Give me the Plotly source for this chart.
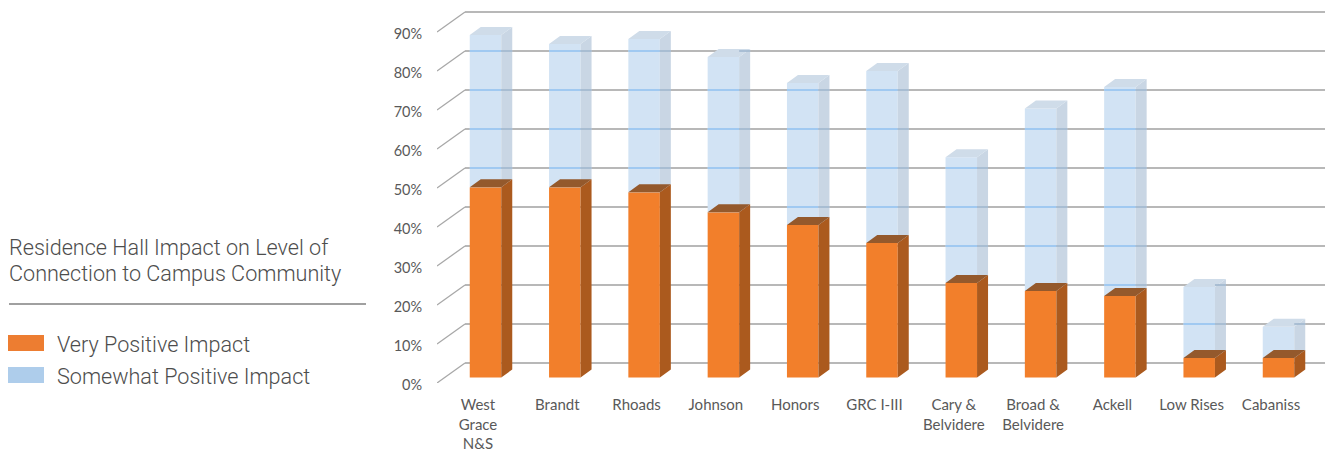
import plotly.graph_objects as go

halls = ["West<br>Grace<br>N&S", "Brandt", "Rhoads", "Johnson", "Honors", "GRC I-III",
         "Cary &<br>Belvidere", "Broad &<br>Belvidere", "Ackell", "Low Rises", "Cabaniss"]
very_positive = [48.8, 48.8, 47.5, 42.4, 39.1, 34.5, 24.2, 22.2, 20.9, 5.0, 5.0]
somewhat_positive = [39.0, 36.7, 39.3, 39.8, 36.4, 44.1, 32.3, 46.8, 53.6, 18.2, 8.0]
y_ticks = list(range(0, 100, 10))
y_labels = [f"{t}%" for t in y_ticks]

W, H = 1327, 452
PX_Y = 3.9            # pixels per percent
PX_X = 79.3           # pixels per category
X0 = 478              # pixel of first category
Y0 = 383              # pixel of 0% on front plane
L, R = 437, 1325
T = 5

def xdata(px): return (px - X0) / PX_X
def ydata(py): return (Y0 - py) / PX_Y
def xp(px): return (px - L) / (R - L)
def yp(py): return (Y0 - py) / (Y0 - T)

WALL_DX = 28 / PX_X
WALL_DY = 20 / PX_Y
BAR_BASE = 5.5 / PX_Y
BAR_W = 31.5 / PX_X
BAR_SHIFT = 7.5 / PX_X
SIDE_DX = 11 / PX_X
SIDE_DY = 8 / PX_Y

x_pos = list(range(len(halls)))
x_min = xdata(L)

fig = go.Figure()
bar_x = [i + BAR_SHIFT for i in x_pos]
fig.add_bar(x=bar_x, y=very_positive, base=[BAR_BASE] * len(halls), width=BAR_W,
            marker=dict(color="#f27f2b", line_width=0), name="Very Positive Impact",
            hoverinfo="skip")
fig.add_bar(x=bar_x, y=somewhat_positive, base=[BAR_BASE + v for v in very_positive], width=BAR_W,
            marker=dict(color="#d2e3f4", line_width=0), name="Somewhat Positive Impact",
            hoverinfo="skip")

def faces(bottoms, tops):
    sx, sy, tx, ty = [], [], [], []
    for i, b, t in zip(bar_x, bottoms, tops):
        r = i + BAR_W / 2
        l = i - BAR_W / 2
        sx += [r, r + SIDE_DX, r + SIDE_DX, r, r, None]
        sy += [b, b + SIDE_DY, t + SIDE_DY, t, b, None]
        tx += [l, r, r + SIDE_DX, l + SIDE_DX, l, None]
        ty += [t, t, t + SIDE_DY, t + SIDE_DY, t, None]
    return sx, sy, tx, ty

def add_poly(x, y, color):
    fig.add_scatter(x=x, y=y, mode="lines", fill="toself", fillcolor=color,
                    line=dict(width=0, color=color), hoverinfo="skip", showlegend=False)

o_bot = [BAR_BASE] * len(halls)
o_top = [BAR_BASE + v for v in very_positive]
b_top = [a + b for a, b in zip(o_top, somewhat_positive)]

sx, sy, tx, ty = faces(o_top, b_top)
add_poly(sx, sy, "#c9d6e4")
add_poly(tx, ty, "#cfdce9")

# gridlines seen through the translucent blue columns
fx, fy, gx, gy = [], [], [], []
for g in y_ticks:
    wall = g + WALL_DY
    for i, ot, bt in zip(bar_x, o_top, b_top):
        r = i + BAR_W / 2
        l = i - BAR_W / 2
        if ot + SIDE_DY < wall < bt + SIDE_DY:
            if wall < bt:
                fx += [l, r, None]; fy += [wall, wall, None]
            gx += [r, r + SIDE_DX, None]; gy += [wall, wall, None]
fig.add_scatter(x=fx, y=fy, mode="lines", line=dict(color="#8fc1f0", width=1.5),
                hoverinfo="skip", showlegend=False)
fig.add_scatter(x=gx, y=gy, mode="lines", line=dict(color="#9db4cc", width=1.5),
                hoverinfo="skip", showlegend=False)

sx, sy, tx, ty = faces(o_bot, o_top)
add_poly(sx, sy, "#ab5a1e")
add_poly(tx, ty, "#94592c")

shapes = []
for g in y_ticks:
    shapes.append(dict(type="line", xref="x", yref="y", layer="below",
                       x0=x_min, y0=g, x1=x_min + WALL_DX, y1=g + WALL_DY,
                       line=dict(color="#a8a8a8", width=1.3)))
    shapes.append(dict(type="line", xref="x", yref="y", layer="below",
                       x0=x_min + WALL_DX, y0=g + WALL_DY, x1=xdata(R), y1=g + WALL_DY,
                       line=dict(color="#a0a0a0", width=1.5)))

LEFT_FONT = "Roboto"
TXT = "#4d4d4d"
shapes.append(dict(type="line", xref="paper", yref="paper", x0=xp(9), x1=xp(366), y0=yp(304), y1=yp(304),
                   line=dict(color="#808080", width=1.3)))
shapes.append(dict(type="rect", xref="paper", yref="paper", x0=xp(8), x1=xp(44), y0=yp(351), y1=yp(335),
                   fillcolor="#ed7d31", line_width=0))
shapes.append(dict(type="rect", xref="paper", yref="paper", x0=xp(8), x1=xp(44), y0=yp(383), y1=yp(367),
                   fillcolor="#aecdeb", line_width=0))

def label(text, px, py):
    return dict(text=text, xref="paper", yref="paper", x=xp(px), y=yp(py), xanchor="left", yanchor="middle",
                showarrow=False, font=dict(family=LEFT_FONT, size=21.6, weight=300, color=TXT))

annotations = [
    label("Residence Hall Impact on Level of", 7, 247),
    label("Connection to Campus Community", 7, 273),
    label("Very Positive Impact", 55, 344),
    label("Somewhat Positive Impact", 55, 376),
]

fig.update_layout(
    width=W, height=H, barmode="overlay", showlegend=False,
    margin=dict(l=L, r=W - R, t=T, b=H - Y0),
    paper_bgcolor="white", plot_bgcolor="white",
    shapes=shapes, annotations=annotations,
    xaxis=dict(range=[xdata(L), xdata(R)], tickmode="array", tickvals=x_pos, ticktext=halls,
               showgrid=False, zeroline=False, showline=False, ticks="outside", ticklen=8,
               tickcolor="rgba(0,0,0,0)", tickangle=0, automargin=False,
               tickfont=dict(family="Lato", size=15, color="#595959")),
    yaxis=dict(range=[0, ydata(T)], tickmode="array", tickvals=y_ticks, ticktext=y_labels,
               showgrid=False, zeroline=False, showline=False, ticks="outside", ticklen=11,
               tickcolor="rgba(0,0,0,0)", automargin=False, ticklabelshift=2,
               tickfont=dict(family="Lato", size=14.5, color="#595959")),
)
fig.write_html("out.html", post_script="document.body.style.margin='0';",
               config={"displayModeBar": False})
